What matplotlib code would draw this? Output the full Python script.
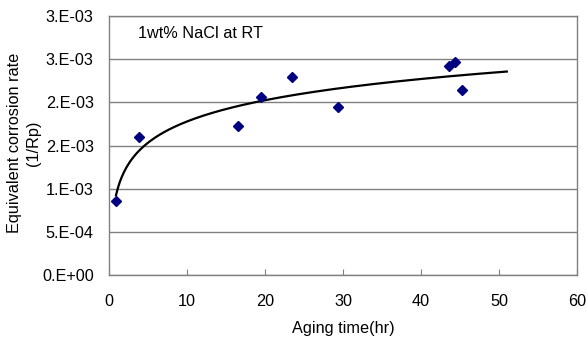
import numpy as np
import matplotlib
matplotlib.use("Agg")
import matplotlib.pyplot as plt
from matplotlib.ticker import FixedLocator, FixedFormatter

plt.rcParams['font.family'] = ['Liberation Sans', 'DejaVu Sans']

# measured points (aging time in hr, 1/Rp)
aging_time = [0.9, 3.9, 16.5, 19.5, 23.4, 29.4, 43.6, 44.4, 45.3]
corr_rate = [0.000862, 0.00160, 0.001723, 0.002065, 0.002288,
             0.001942, 0.002420, 0.002465, 0.002138]

ytick_vals = [0, 0.0005, 0.001, 0.0015, 0.002, 0.0025, 0.003]
ytick_labels = ["0.E+00", "5.E-04", "1.E-03", "2.E-03", "2.E-03", "3.E-03", "3.E-03"]
xtick_vals = [0, 10, 20, 30, 40, 50, 60]
trend_end = 51  # trendline forecast end

# logarithmic trendline like excel
a, b = np.polyfit(np.log(aging_time), corr_rate, 1)
xt = np.linspace(aging_time[0], trend_end, 300)
yt = a * np.log(xt) + b

fig = plt.figure(figsize=(5.86, 3.4), dpi=100)
ax = fig.add_axes([109/586, 65/340, 468/586, 259/340])

ax.plot(xt, yt, color='black', lw=1.6, zorder=3)
ax.plot(aging_time, corr_rate, 'D', color='#000080', ms=5.6, mec='#000080', zorder=4)

ax.set_xlim(0, 60)
ax.set_ylim(0, 0.003)
ax.yaxis.set_major_locator(FixedLocator(ytick_vals))
ax.yaxis.set_major_formatter(FixedFormatter(ytick_labels))
ax.set_xticks(xtick_vals)
ax.grid(axis='y', color='#808080', lw=1)
ax.set_axisbelow(True)
for s in ax.spines.values():
    s.set_color('#808080')
    s.set_linewidth(1)

ax.tick_params(axis='x', direction='in', length=4, color='#808080', pad=14, labelsize=11.7)
ax.tick_params(axis='y', length=0, pad=11, labelsize=11.7)

ax.set_xlabel("Aging time(hr)", fontsize=11.7, labelpad=8)
fig.text(24/586, 1 - 143/340, "Equivalent corrosion rate\n(1/Rp)", rotation=90,
         ha='center', va='center', multialignment='center', fontsize=11.7,
         linespacing=1.3)
ax.text(0.062, 0.934, "1wt% NaCl at RT", transform=ax.transAxes,
        ha='left', va='center', fontsize=11.7)

fig.savefig("out.png", dpi=100)
